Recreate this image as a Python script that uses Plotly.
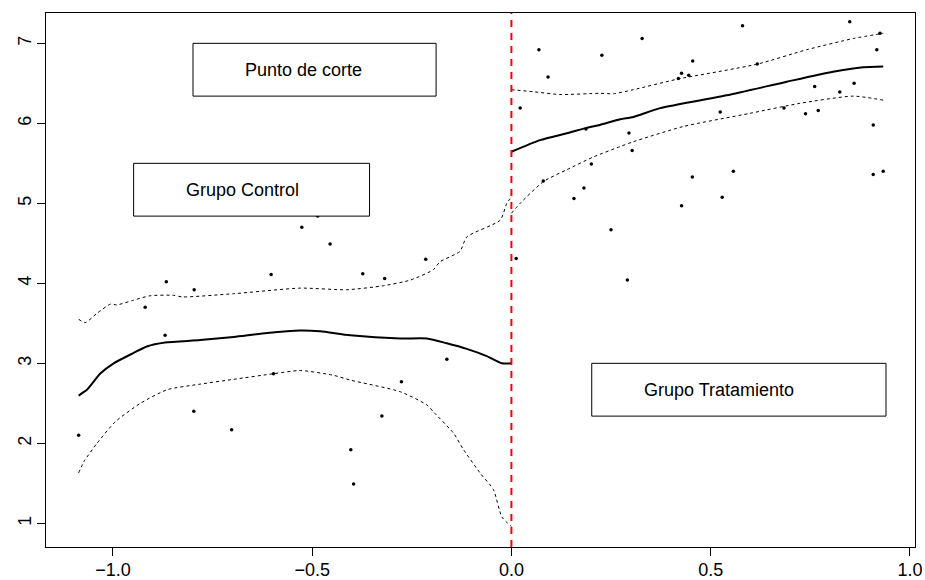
import plotly.graph_objects as go

# Running variable (centred at the cutoff) and outcome for each unit
control_x = [-1.086, -0.919, -0.869, -0.866, -0.797, -0.796, -0.702, -0.603, -0.597, -0.526,
             -0.486, -0.455, -0.403, -0.396, -0.373, -0.325, -0.318, -0.276, -0.215, -0.162]
control_y = [2.10, 3.70, 3.35, 4.02, 2.40, 3.92, 2.17, 4.11, 2.87, 4.70,
             4.84, 4.49, 1.92, 1.49, 4.12, 2.34, 4.06, 2.77, 4.30, 3.05]

treat_x = [0.012, 0.022, 0.069, 0.080, 0.092, 0.157, 0.182, 0.187, 0.2006, 0.227,
           0.250, 0.291, 0.295, 0.303, 0.328, 0.419, 0.427, 0.427, 0.445, 0.454,
           0.455, 0.524, 0.529, 0.557, 0.580, 0.617, 0.684, 0.738, 0.761, 0.770,
           0.824, 0.849, 0.860, 0.908, 0.908, 0.917, 0.925, 0.933]
treat_y = [4.31, 6.19, 6.92, 5.28, 6.58, 5.06, 5.19, 5.93, 5.49, 6.85,
           4.67, 4.04, 5.88, 5.66, 7.06, 6.56, 6.625, 4.97, 6.60, 5.33,
           6.78, 6.14, 5.075, 5.40, 7.22, 6.74, 6.19, 6.12, 6.46, 6.16,
           6.39, 7.27, 6.50, 5.98, 5.36, 6.92, 7.125, 5.40]

# Local fit and confidence band, left of the cutoff
fit_left_x = [-1.086, -1.078, -1.065, -1.031, -0.998, -0.948, -0.915, -0.869, -0.781, -0.697,
              -0.613, -0.530, -0.480, -0.404, -0.279, -0.212, -0.162, -0.112, -0.062, -0.024, 0.0]
fit_left_y = [2.595, 2.625, 2.67, 2.875, 3.0, 3.13, 3.21, 3.26, 3.29, 3.33,
              3.38, 3.41, 3.40, 3.35, 3.31, 3.31, 3.25, 3.18, 3.09, 3.0, 3.0]

upper_left_x = [-1.086, -1.069, -1.040, -1.006, -0.990, -0.948, -0.906, -0.848, -0.826, -0.697,
                -0.530, -0.413, -0.321, -0.254, -0.196, -0.179, -0.129, -0.112, -0.028, -0.0115, 0.0]
upper_left_y = [3.55, 3.51, 3.625, 3.74, 3.73, 3.79, 3.845, 3.85, 3.83, 3.87,
                3.94, 3.92, 3.97, 4.04, 4.17, 4.27, 4.40, 4.58, 4.79, 5.0, 5.08]

lower_left_x = [-1.086, -1.073, -1.040, -0.994, -0.931, -0.864, -0.781, -0.697, -0.597, -0.530,
                -0.446, -0.404, -0.279, -0.212, -0.196, -0.145, -0.120, -0.078, -0.045, -0.024, 0.0]
lower_left_y = [1.63, 1.77, 2.0, 2.27, 2.50, 2.67, 2.74, 2.80, 2.87, 2.91,
                2.85, 2.79, 2.645, 2.48, 2.395, 2.125, 1.92, 1.625, 1.42, 1.08, 0.96]

# Local fit and confidence band, right of the cutoff
fit_right_x = [0.0, 0.072, 0.139, 0.187, 0.222, 0.273, 0.306, 0.373, 0.540, 0.691, 0.807, 0.883, 0.933]
fit_right_y = [5.645, 5.79, 5.875, 5.94, 5.98, 6.05, 6.08, 6.19, 6.35, 6.52, 6.645, 6.70, 6.71]

upper_right_x = [0.0, 0.055, 0.122, 0.222, 0.256, 0.306, 0.415, 0.617, 0.741, 0.858, 0.933]
upper_right_y = [6.42, 6.395, 6.36, 6.375, 6.37, 6.42, 6.55, 6.74, 6.92, 7.06, 7.125]

lower_right_x = [0.0, 0.022, 0.080, 0.139, 0.206, 0.273, 0.306, 0.431, 0.599, 0.724, 0.858, 0.933]
lower_right_y = [4.875, 5.0, 5.27, 5.42, 5.58, 5.71, 5.77, 5.96, 6.125, 6.25, 6.34, 6.29]

cutoff = 0.0

x_ticks = [-1.0, -0.5, 0.0, 0.5, 1.0]
x_tick_labels = ["\u22121.0", "\u22120.5", "0.0", "0.5", "1.0"]
y_ticks = [1, 2, 3, 4, 5, 6, 7]

labels = ["Punto de corte", "Grupo Control", "Grupo Tratamiento"]

FONT = "Liberation Sans, Arial, Helvetica, sans-serif"

fig = go.Figure()

fig.add_trace(go.Scatter(x=control_x + treat_x, y=control_y + treat_y, mode="markers",
                         marker=dict(color="black", size=3.5), hoverinfo="x+y"))

for xs, ys in [(fit_left_x, fit_left_y), (fit_right_x, fit_right_y)]:
    fig.add_trace(go.Scatter(x=xs, y=ys, mode="lines",
                             line=dict(color="black", width=2, shape="spline", smoothing=0.6)))

for xs, ys in [(upper_left_x, upper_left_y), (lower_left_x, lower_left_y),
               (upper_right_x, upper_right_y), (lower_right_x, lower_right_y)]:
    fig.add_trace(go.Scatter(x=xs, y=ys, mode="lines",
                             line=dict(color="black", width=1, dash="3px,3px",
                                       shape="spline", smoothing=0.6)))

# Cutoff line
fig.add_shape(type="line", xref="x", yref="paper", x0=cutoff, x1=cutoff, y0=0, y1=1,
              line=dict(color="#ff0000", width=2, dash="7px,6px"))

# Label boxes (x0, x1, y0, y1 in data units)
boxes = [(-0.799, -0.189, 6.34, 7.0),
         (-0.948, -0.356, 4.84, 5.5),
         (0.2016, 0.94, 2.34, 3.0)]
for (x0, x1, y0, y1), text in zip(boxes, labels):
    fig.add_shape(type="rect", xref="x", yref="y", x0=x0, x1=x1, y0=y0, y1=y1,
                  line=dict(color="black", width=1), fillcolor="white", layer="above")
    fig.add_annotation(x=x0, y=(y0 + y1) / 2, xref="x", yref="y", text=text,
                       showarrow=False, xanchor="left", yanchor="middle", xshift=50,
                       font=dict(family=FONT, size=18, color="black"))

axis_common = dict(showgrid=False, zeroline=False, showline=True, linecolor="black",
                   linewidth=1, mirror=True, ticks="outside", ticklen=8,
                   tickcolor="black", tickwidth=1, automargin=False,
                   tickfont=dict(family=FONT, size=18, color="black"))

fig.update_layout(
    width=925, height=580,
    margin=dict(l=46, r=10, t=13, b=33),
    plot_bgcolor="white", paper_bgcolor="white",
    showlegend=False,
    xaxis=dict(range=[-1.1679, 1.0128], tickvals=x_ticks, ticktext=x_tick_labels,
               ticklabelstandoff=-2, **axis_common),
    yaxis=dict(range=[0.704, 7.379], tickvals=y_ticks, tickangle=-90,
               ticklabelstandoff=-1, **axis_common),
)

fig.write_html("out.html")
